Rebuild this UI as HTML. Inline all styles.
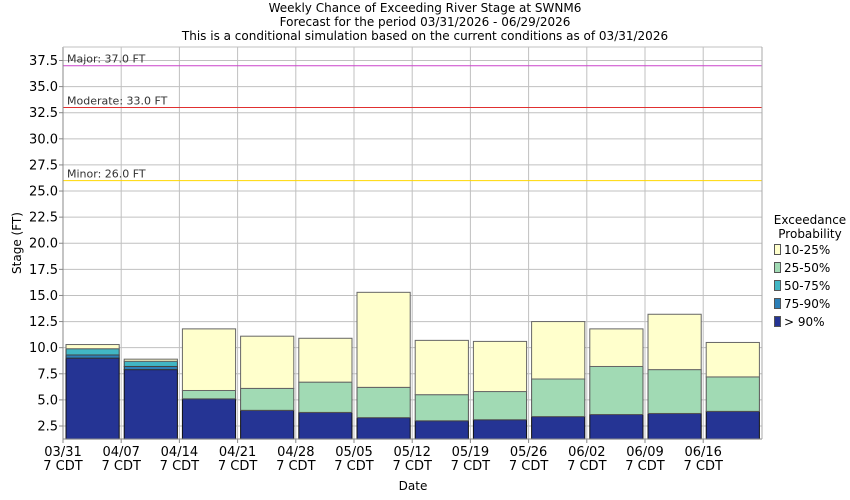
<!DOCTYPE html>
<html><head><meta charset="utf-8"><style>body{margin:0;background:#fff}svg{display:block;font-family:"DejaVu Sans","Liberation Sans",sans-serif}</style></head>
<body>
<svg id="s" width="850" height="500" xmlns="http://www.w3.org/2000/svg">
<rect width="850" height="500" fill="#fff"/>
<g font-size="12" fill="#000" text-anchor="middle">
<text x="425" y="12">Weekly Chance of Exceeding River Stage at SWNM6</text>
<text x="425" y="26">Forecast for the period 03/31/2026 - 06/29/2026</text>
<text x="425" y="40">This is a conditional simulation based on the current conditions as of 03/31/2026</text>
<text x="413" y="490">Date</text>
<text transform="translate(21,243) rotate(-90)">Stage (FT)</text>
<text x="810" y="224">Exceedance</text>
<text x="810" y="238">Probability</text>
</g>
<g id="g"></g>
</svg>
<script>
(function(){
var g=document.getElementById('g'),h='';
function Y(v){return 426-(v-2.5)*10.443;}
var L=63,R=762,T=47,B=439,W=58.2;
for(var v=2.5;v<=37.5;v+=2.5){var y=Y(v);h+='<line x1="'+L+'" x2="'+R+'" y1="'+y+'" y2="'+y+'" stroke="#c0c0c0"/>';
h+='<line x1="'+(L-4)+'" x2="'+L+'" y1="'+y+'" y2="'+y+'" stroke="#888"/>';
h+='<text x="'+(L-5)+'" y="'+(y+4.5)+'" font-size="13" text-anchor="end">'+v.toFixed(1)+'</text>';}
var d=['03/31','04/07','04/14','04/21','04/28','05/05','05/12','05/19','05/26','06/02','06/09','06/16'];
for(var i=0;i<12;i++){var x=L+W*i;h+='<line x1="'+x+'" x2="'+x+'" y1="'+T+'" y2="'+B+'" stroke="#c0c0c0"/>';
h+='<line x1="'+x+'" x2="'+x+'" y1="'+B+'" y2="'+(B+4)+'" stroke="#888"/>';
h+='<text x="'+x+'" y="'+(B+17)+'" font-size="13" text-anchor="middle">'+d[i]+'</text><text x="'+x+'" y="'+(B+31)+'" font-size="13" text-anchor="middle">7 CDT</text>';}
h+='<line x1="'+L+'" x2="'+R+'" y1="'+Y(37)+'" y2="'+Y(37)+'" stroke="#cc44cc"/><text x="67" y="'+(Y(37)-3)+'" font-size="11" fill="#333">Major: 37.0 FT</text>';
h+='<line x1="'+L+'" x2="'+R+'" y1="'+Y(33)+'" y2="'+Y(33)+'" stroke="#e03030"/><text x="67" y="'+(Y(33)-3)+'" font-size="11" fill="#333">Moderate: 33.0 FT</text>';
h+='<line x1="'+L+'" x2="'+R+'" y1="'+Y(26)+'" y2="'+Y(26)+'" stroke="#ffd700"/><text x="67" y="'+(Y(26)-3)+'" font-size="11" fill="#333">Minor: 26.0 FT</text>';
var b=[[9.0,9.3,9.9,9.9,10.3],[7.9,8.2,8.7,8.7,8.9],[5.1,5.1,5.1,5.9,11.8],[4.0,4.0,4.0,6.1,11.1],[3.8,3.8,3.8,6.7,10.9],[3.3,3.3,3.3,6.2,15.3],[3.0,3.0,3.0,5.5,10.7],[3.1,3.1,3.1,5.8,10.6],[3.4,3.4,3.4,7.0,12.5],[3.6,3.6,3.6,8.2,11.8],[3.7,3.7,3.7,7.9,13.2],[3.9,3.9,3.9,7.2,10.5]];
var c=['#253494','#2c7fb8','#41b6c4','#a1dab4','#ffffcc'];
var sc=['#111','#333','#444','#555','#666'];
for(var i=0;i<12;i++){var bx=L+W*i+3,bw=W-5,prev=1.25;
for(var k=0;k<5;k++){var tv=b[i][k];if(tv>prev){h+='<rect x="'+bx+'" y="'+Y(tv)+'" width="'+bw+'" height="'+(Y(prev)-Y(tv))+'" fill="'+c[k]+'" stroke="'+sc[k]+'"/>';prev=tv;}}}
h+='<line x1="'+L+'" x2="'+L+'" y1="'+T+'" y2="'+B+'" stroke="#888"/><line x1="'+L+'" x2="'+R+'" y1="'+B+'" y2="'+B+'" stroke="#888"/>';
h+='<line x1="'+L+'" x2="'+R+'" y1="'+T+'" y2="'+T+'" stroke="#c0c0c0"/><line x1="'+R+'" x2="'+R+'" y1="'+T+'" y2="'+B+'" stroke="#aaa"/>';
var lt=['10-25%','25-50%','50-75%','75-90%','> 90%'],lc=['#ffffcc','#a1dab4','#41b6c4','#2c7fb8','#253494'];
for(var k=0;k<5;k++){var ly=245+k*18;h+='<rect x="774.5" y="'+(ly-0.5)+'" width="6" height="10" fill="'+lc[k]+'" stroke="#555"/><text x="784" y="'+(ly+9)+'" font-size="12">'+lt[k]+'</text>';}
g.innerHTML=h;
})();
</script>
</body></html>
